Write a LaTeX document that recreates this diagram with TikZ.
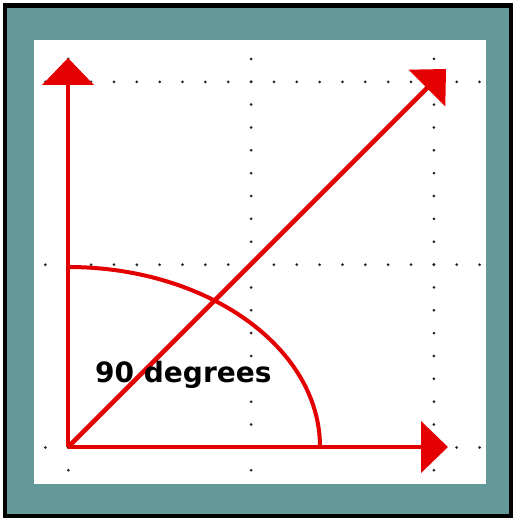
\documentclass[tikz,border=0pt]{standalone}
\usepackage{fontspec}
\setsansfont{DejaVu Sans}
\usetikzlibrary{arrows.meta}
\definecolor{frameteal}{RGB}{99,153,153}
\definecolor{vred}{RGB}{228,0,0}
\begin{document}
\begin{tikzpicture}[x=1pt,y=-1pt,
  gridline/.style={line width=3pt, line cap=round, dash pattern=on 0pt off 22.85pt, black!85},
  vector/.style={line width=4.6pt, vred, -{Triangle[length=27pt,width=51pt]}},
  anglearc/.style={line width=4pt, vred},
  lbl/.style={font=\sffamily\bfseries\fontsize{28}{30}\selectfont, inner sep=0pt, anchor=base west}]
\useasboundingbox (0,0) rectangle (513,518);
\fill[white] (0,0) rectangle (513,518);
\fill[black] (3,3) rectangle (513,518);
\fill[frameteal] (7,8) rectangle (509,514);
\fill[white] (34,40) rectangle (486,484);
% dotted grid
\foreach \g in {68.3,251.1,433.9}{
  \draw[gridline] (\g,58.9) -- (\g,471);
  \draw[gridline] (45.4,\g+13.6) -- (480,\g+13.6);
}
\coordinate (O) at (68,447);
\coordinate (ytip) at (68,58);
\coordinate (xtip) at (448,447);
\coordinate (dtip) at (446,69);
\coordinate (arcstart) at (320,447);
% arc
\draw[anglearc] (arcstart) arc[start angle=0, end angle=90, x radius=252, y radius=-180];
% vectors
\draw[vector] (O) -- (ytip);
\draw[vector] (O) -- (xtip);
\draw[vector] (O) -- (dtip);
\node[lbl] (label) at (95,382) {90 degrees};
\end{tikzpicture}
\end{document}
